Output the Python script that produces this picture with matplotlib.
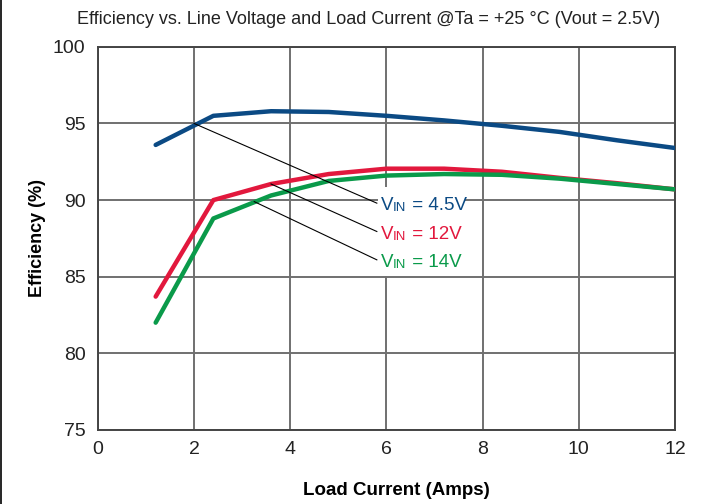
import matplotlib
matplotlib.use("Agg")
import matplotlib.pyplot as plt
from matplotlib.lines import Line2D
from matplotlib.patches import Rectangle

# Eficiencia vs corriente de carga (Vout = 2.5V, Ta = +25 °C)
corriente = [1.2, 2.4, 3.6, 4.8, 6.0, 7.2, 8.4, 9.6, 10.8, 12.0]
ef_4v5 = [93.6, 95.5, 95.8, 95.75, 95.5, 95.2, 94.85, 94.45, 93.9, 93.4]
ef_12v = [83.7, 90.0, 91.05, 91.7, 92.05, 92.05, 91.85, 91.45, 91.1, 90.7]
ef_14v = [82.0, 88.8, 90.3, 91.25, 91.6, 91.7, 91.65, 91.4, 91.05, 90.7]

etiquetas = ["4.5V", "12V", "14V"]
colores = ["#0b4a84", "#e2183d", "#0a9a4a"]

plt.rcParams['font.family'] = ['Liberation Sans', 'DejaVu Sans']

fig = plt.figure(figsize=(7.15, 5.04), dpi=100)
ax = fig.add_axes([0.137, 0.147, 0.807, 0.760])

ax.grid(True, color='#707070', linewidth=1.4)
ax.set_axisbelow(True)
for s in ax.spines.values():
    s.set_color('#444444')
    s.set_linewidth(1.4)
ax.tick_params(length=0, labelsize=14, colors='#222222')
ax.tick_params(axis='x', pad=8)
ax.tick_params(axis='y', pad=9)

series = [ef_4v5, ef_12v, ef_14v]
for datos, col in zip(series, colores):
    ax.plot(corriente, datos, color=col, linewidth=3.2, solid_capstyle='round',
            solid_joinstyle='round', zorder=3)

ax.set_xlim(0, 12)
ax.set_ylim(75, 100)
ax.set_xticks(range(0, 13, 2))
ax.set_yticks(range(75, 101, 5))

ax.set_xlabel('Load Current (Amps)', fontsize=13.5, fontweight='bold', labelpad=15)
ax.xaxis.set_label_coords(0.517, -0.135)
ax.set_ylabel('Efficiency (%)', fontsize=13, fontweight='bold', labelpad=5)
fig.text(0.516, 0.962, 'Efficiency vs. Line Voltage and Load Current @Ta = +25 °C (Vout = 2.5V)',
         ha='center', va='center', fontsize=13, color='#222222')

# fondo blanco del bloque de etiquetas
ax.add_patch(Rectangle((5.82, 85.05), 1.81, 5.8, facecolor='white', edgecolor='none', zorder=2))

# anotaciones con líneas guía
origens = [(2.0, 95.0), (3.6, 91.05), (3.25, 89.9)]
textos_y = [89.8, 87.95, 86.1]
for (x0, y0), ty, lab, col in zip(origens, textos_y, etiquetas, colores):
    ax.plot([x0, 5.8], [y0, ty], color='black', linewidth=0.8, zorder=4)
    t_v = ax.text(5.88, ty - 0.72, 'V', color=col, fontsize=13.5, va='bottom', ha='left',
                  zorder=5)
    t_in = ax.annotate('IN', xy=(1, 0), xycoords=t_v, color=col, fontsize=9.5,
                       va='bottom', ha='left', zorder=5)
    ax.annotate(' = ' + lab, xy=(1, 0), xycoords=t_in, color=col, fontsize=13.5,
                va='bottom', ha='left', zorder=5)

# borde izquierdo de la imagen
fig.add_artist(Line2D([0.002, 0.002], [0, 1], color='black', linewidth=1.2))

fig.savefig('out.png', dpi=100)
